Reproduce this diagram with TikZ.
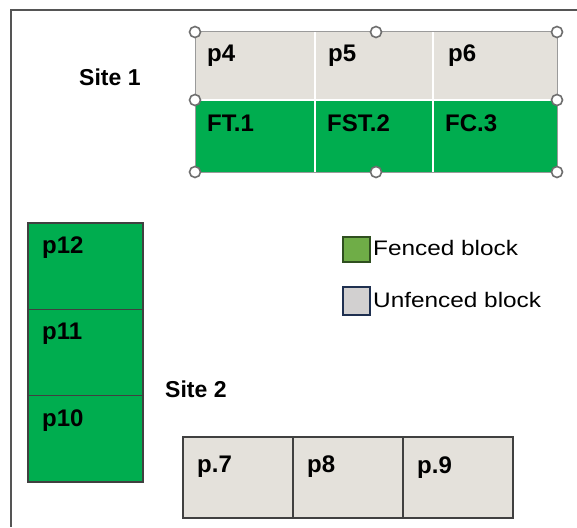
\documentclass[tikz,border=0pt]{standalone}
\usepackage{fontspec}
\setmainfont{Liberation Sans}
\usepackage{graphicx}
\definecolor{cellgray}{HTML}{E4E1DB}
\definecolor{cellgreen}{HTML}{00AD4F}
\definecolor{leggreen}{HTML}{6FAD47}
\definecolor{leggreenb}{HTML}{2F4F1F}
\definecolor{leggray}{HTML}{D2D0D0}
\definecolor{leggrayb}{HTML}{1F3050}
\definecolor{framecol}{HTML}{555555}
\definecolor{handlecol}{HTML}{6E6E6E}
\begin{document}
\begin{tikzpicture}[x=1pt,y=-1pt,
  cellbox/.style={anchor=north west, inner sep=0pt, outer sep=0pt},
  topcell/.style={cellbox, draw=none},
  blockcell/.style={cellbox, draw=none},
  blockline/.style={draw=black!75, line width=1.6pt},
  lbl/.style={anchor=base west, inner sep=0pt, font=\fontsize{24}{24}\selectfont\bfseries},
  sitelbl/.style={anchor=base west, inner sep=0pt, font=\fontsize{23}{23}\selectfont\bfseries},
  legtext/.style={anchor=base west, inner sep=0pt, font=\fontsize{21}{21}\selectfont},
  legbox/.style={cellbox, line width=1.6pt, minimum width=27pt, minimum height=25pt},
  handle/.style={circle, draw=handlecol, fill=white, line width=1.6pt, minimum size=11pt, inner sep=0pt},
  frameline/.style={draw=framecol, line width=1.8pt}]
\useasboundingbox (0,0) rectangle (577,527);
\fill[white] (0,0) rectangle (577,527);
% outer frame
\coordinate (fr1) at (577,10);
\coordinate (fr2) at (11,10);
\coordinate (fr3) at (11,527);
\draw[frameline] (fr1) -- (fr2) -- (fr3);

% Site 1 block
\node[topcell, fill=cellgray, minimum width=120pt, minimum height=68pt] (c4) at (195,32) {};
\node[topcell, fill=cellgray, minimum width=118pt, minimum height=68pt] (c5) at (315,32) {};
\node[topcell, fill=cellgray, minimum width=124pt, minimum height=68pt] (c6) at (433,32) {};
\node[topcell, fill=cellgreen, minimum width=120pt, minimum height=72pt] (c1) at (195,100) {};
\node[topcell, fill=cellgreen, minimum width=118pt, minimum height=72pt] (c2) at (315,100) {};
\node[topcell, fill=cellgreen, minimum width=124pt, minimum height=72pt] (c3) at (433,100) {};
\draw[white, line width=2.5pt] (c4.south west) -- (c6.south east);
\draw[white, line width=1.5pt] (c4.north east) -- (c1.south east);
\draw[white, line width=1.5pt] (c5.north east) -- (c2.south east);
\draw[handlecol!70, line width=1pt] (c4.north west) rectangle (c3.south east);
\foreach \n/\x/\y in {h1/195/32, h2/376/32, h3/557/32, h4/195/100, h5/557/100, h6/195/172, h7/376/172, h8/557/172}
  \node[handle] (\n) at (\x,\y) {};
\node[lbl] (t4) at (207,61) {p4};
\node[lbl] (t5) at (328,61) {p5};
\node[lbl] (t6) at (448,61) {p6};
\node[lbl] (t1) at (207,131) {FT.1};
\node[lbl] (t2) at (327,131) {FST.2};
\node[lbl] (t3) at (445,131) {FC.3};
\node[sitelbl] (site1) at (79,85) {Site 1};

% Left stack
\node[blockcell, fill=cellgreen, minimum width=115pt, minimum height=86.3pt] (c12) at (28,223) {};
\node[blockcell, fill=cellgreen, minimum width=115pt, minimum height=86.3pt] (c11) at (28,309.3) {};
\node[blockcell, fill=cellgreen, minimum width=115pt, minimum height=86.4pt] (c10) at (28,395.6) {};
\foreach \c in {c12,c11,c10}
  \draw[blockline] (\c.north west) rectangle (\c.south east);
\node[lbl] (t12) at (42,253) {p12};
\node[lbl] (t11) at (42,339) {p11};
\node[lbl] (t10) at (42,426) {p10};

% Site 2
\node[sitelbl] (site2) at (165,397) {Site 2};

% Bottom row
\node[blockcell, fill=cellgray, minimum width=110pt, minimum height=81pt] (c7) at (183,437) {};
\node[blockcell, fill=cellgray, minimum width=110pt, minimum height=81pt] (c8) at (293,437) {};
\node[blockcell, fill=cellgray, minimum width=110pt, minimum height=81pt] (c9) at (403,437) {};
\foreach \c in {c7,c8,c9}
  \draw[blockline] (\c.north west) rectangle (\c.south east);
\node[lbl] (t7) at (197,472) {p.7};
\node[lbl] (t8) at (307,472) {p8};
\node[lbl] (t9) at (417,473) {p.9};

% Legend
\node[legbox, draw=leggreenb, fill=leggreen] (lg1) at (343,237) {};
\node[legbox, draw=leggrayb, fill=leggray, minimum height=28pt] (lg2) at (343,287) {};
\node[legtext] (lt1) at (373,255) {\scalebox{1.16}[1]{Fenced block}};
\node[legtext] (lt2) at (373,307) {\scalebox{1.16}[1]{Unfenced block}};
\end{tikzpicture}
\end{document}
